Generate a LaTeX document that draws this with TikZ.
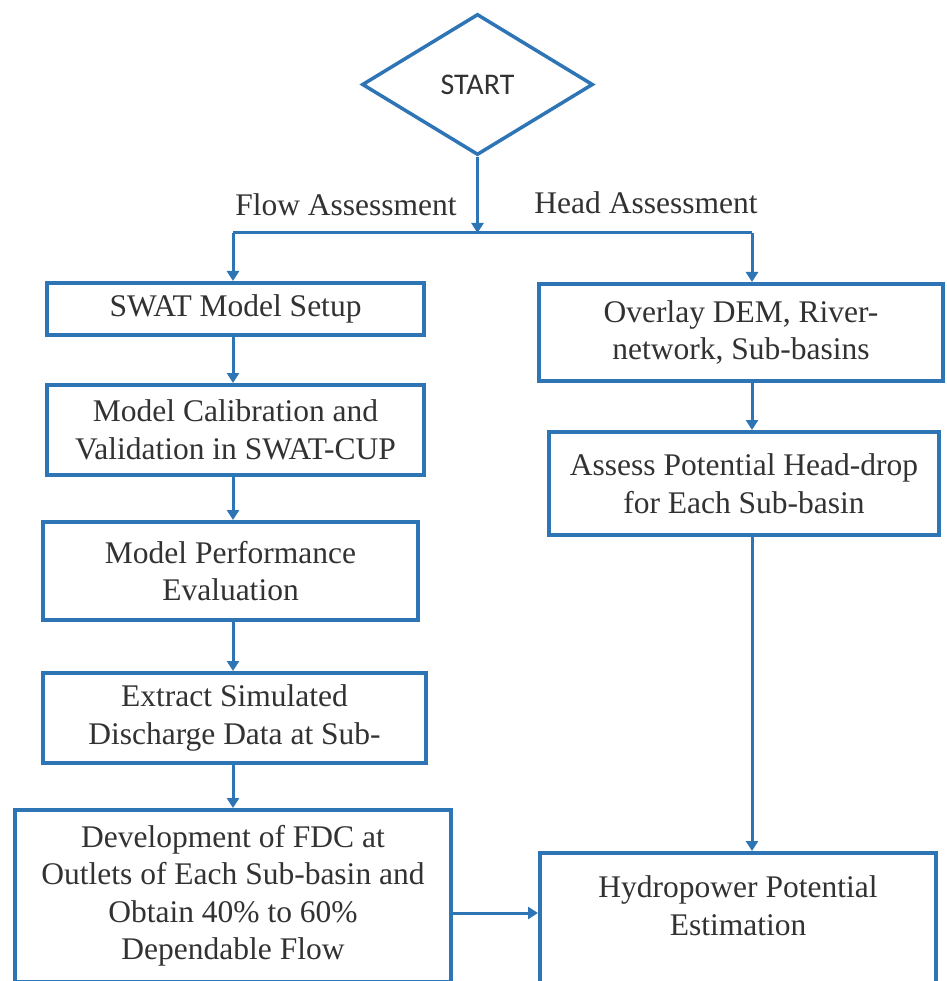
\documentclass[tikz,border=0pt]{standalone}
\usepackage{fontspec}
\setmainfont{Liberation Serif}
\newfontfamily\startfont{Carlito}
\usetikzlibrary{shapes.geometric,arrows.meta}
\definecolor{flowblue}{RGB}{46,117,182}
\definecolor{txtgray}{RGB}{50,50,50}
\tikzset{
  stepbox/.style={draw=flowblue, line width=4pt, fill=white, align=center,
    inner sep=0pt, text=txtgray, font=\fontsize{31.5}{37.5}\selectfont},
  arr/.style={draw=flowblue, line width=3pt,
    -{Triangle[length=10pt,width=12pt]}},
  conn/.style={draw=flowblue, line width=3pt},
  lbl/.style={text=txtgray, font=\fontsize{31.5}{37.5}\selectfont, inner sep=0pt}
}
\begin{document}
\begin{tikzpicture}[x=1pt,y=-1pt]
\useasboundingbox (0,0) rectangle (946,981);
\clip (0,0) rectangle (946,981);
\fill[white] (0,0) rectangle (946,981);

% start diamond
\node[diamond, draw=flowblue, line width=3.5pt, aspect=1.62, inner sep=0pt,
  minimum width=231pt, minimum height=141pt, text=txtgray,
  font=\startfont\fontsize{30}{36}\selectfont] (start) at (477.5,84.5) {START};

% column helpers
\coordinate (colL) at (233,0);
\coordinate (colR) at (752,0);
\coordinate (jc) at (477.5,233);
\coordinate (jl) at (233,233);
\coordinate (jr) at (752,233);
\coordinate (hrow) at (0,913);

% labels
\node[lbl] (flowlbl) at (346,205) {Flow Assessment};
\node[lbl] (headlbl) at (646,203) {Head Assessment};

% left column
\node[stepbox, minimum width=377pt, minimum height=52pt] (swat) at (235.5,309) {SWAT Model Setup};
\node[stepbox, minimum width=377pt, minimum height=90pt] (calib) at (235.5,430) {Model Calibration and\\Validation in SWAT-CUP};
\node[stepbox, minimum width=375pt, minimum height=98pt] (perf) at (230.5,571) {Model Performance\\Evaluation};
\node[stepbox, minimum width=383pt, minimum height=90pt] (extract) at (234.5,718) {Extract Simulated\\Discharge Data at Sub-};
\node[stepbox, minimum width=436pt, minimum height=172pt] (fdc) at (233,896) {Development of FDC at\\Outlets of Each Sub-basin and\\Obtain 40\% to 60\%\\Dependable Flow};

% right column
\node[stepbox, minimum width=404pt, minimum height=97pt] (dem) at (741,332.5) {Overlay DEM, River-\\network, Sub-basins};
\node[stepbox, minimum width=390pt, minimum height=103pt] (head) at (744,483.5) {Assess Potential Head-drop\\for Each Sub-basin};
\node[stepbox, minimum width=396pt, minimum height=154pt] (hydro) at (738,930) {Hydropower Potential\\Estimation\\\strut};

% connectors
\draw[arr] (start.south) -- (jc);
\draw[conn] (jl) -- (jr);
\draw[arr] (jl) -- (jl |- swat.north);
\draw[arr] (jr) -- (jr |- dem.north);
\draw[arr] (colL |- swat.south) -- (colL |- calib.north);
\draw[arr] (colL |- calib.south) -- (colL |- perf.north);
\draw[arr] (colL |- perf.south) -- (colL |- extract.north);
\draw[arr] (colL |- extract.south) -- (colL |- fdc.north);
\draw[arr] (colR |- dem.south) -- (colR |- head.north);
\draw[arr] (colR |- head.south) -- (colR |- hydro.north);
\draw[arr] (fdc.east |- hrow) -- (hydro.west |- hrow);
\end{tikzpicture}
\end{document}
